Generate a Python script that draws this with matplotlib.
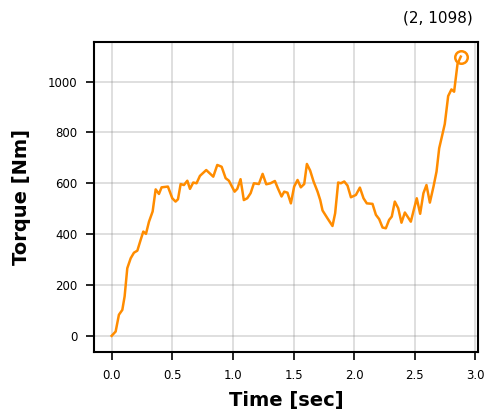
import numpy as np
import matplotlib
matplotlib.use("Agg")
import matplotlib.pyplot as plt

# time [sec] and torque [Nm]
time_s = [0.0, 0.033, 0.06, 0.088, 0.107, 0.129, 0.157, 0.184, 0.212, 0.239,
          0.261, 0.283, 0.308, 0.338, 0.363, 0.39, 0.412, 0.464, 0.5, 0.527,
          0.547, 0.569, 0.596, 0.624, 0.646, 0.673, 0.7, 0.728, 0.78, 0.838,
          0.871, 0.907, 0.94, 0.967, 1.014, 1.036, 1.063, 1.09, 1.118, 1.146,
          1.173, 1.214, 1.245, 1.275, 1.31, 1.346, 1.371, 1.401, 1.423, 1.45,
          1.478, 1.505, 1.533, 1.56, 1.588, 1.61, 1.637, 1.665, 1.698, 1.72,
          1.739, 1.78, 1.821, 1.843, 1.868, 1.89, 1.918, 1.945, 1.973, 2.014,
          2.047, 2.077, 2.104, 2.151, 2.179, 2.206, 2.234, 2.261, 2.288, 2.31,
          2.335, 2.363, 2.39, 2.418, 2.44, 2.467, 2.495, 2.516, 2.544, 2.571,
          2.596, 2.624, 2.654, 2.679, 2.701, 2.723, 2.747, 2.775, 2.802, 2.824,
          2.852, 2.879]
torque = [0, 17, 83, 102, 155, 266, 305, 327, 335, 377,
          410, 401, 449, 489, 576, 558, 584, 587, 541, 528,
          537, 597, 593, 610, 578, 603, 600, 629, 652, 626,
          672, 665, 620, 610, 567, 578, 616, 534, 541, 561,
          600, 597, 637, 596, 600, 609, 580, 548, 567, 563,
          521, 587, 613, 584, 597, 676, 650, 607, 567, 534,
          493, 462, 432, 482, 603, 600, 607, 591, 545, 554,
          583, 541, 521, 519, 476, 459, 426, 423, 456, 469,
          528, 502, 445, 485, 469, 449, 502, 541, 480, 561,
          593, 524, 587, 646, 738, 783, 833, 943, 969, 960,
          1069, 1098]

fig = plt.figure(figsize=(4.88, 4.13), dpi=100)
ax = fig.add_axes([0.193, 0.148, 0.787, 0.75])

ax.plot(time_s, torque, color="darkorange", linewidth=1.8)
ax.plot(time_s[-1], torque[-1], marker="o", markersize=9, markerfacecolor="none",
        markeredgecolor="darkorange", markeredgewidth=1.8)

ax.grid(True, color="grey", alpha=0.3, linewidth=1.2)
ax.set_ylim(-63, 1155)
ax.set_xlabel("Time [sec]", fontsize=14, fontweight="bold", labelpad=7)
ax.set_ylabel("Torque [Nm]", fontsize=14, fontweight="bold", labelpad=12)
ax.tick_params(labelsize=8.5, length=6, width=1.2, pad=6)
for s in ax.spines.values():
    s.set_linewidth(1.5)
ax.set_xticks([0.0, 0.5, 1.0, 1.5, 2.0, 2.5, 3.0])

fig.text(473 / 488, 1 - 18 / 413, "(2, %d)" % torque[-1], ha="right", va="center", fontsize=11)

fig.savefig("out.png", dpi=100)
